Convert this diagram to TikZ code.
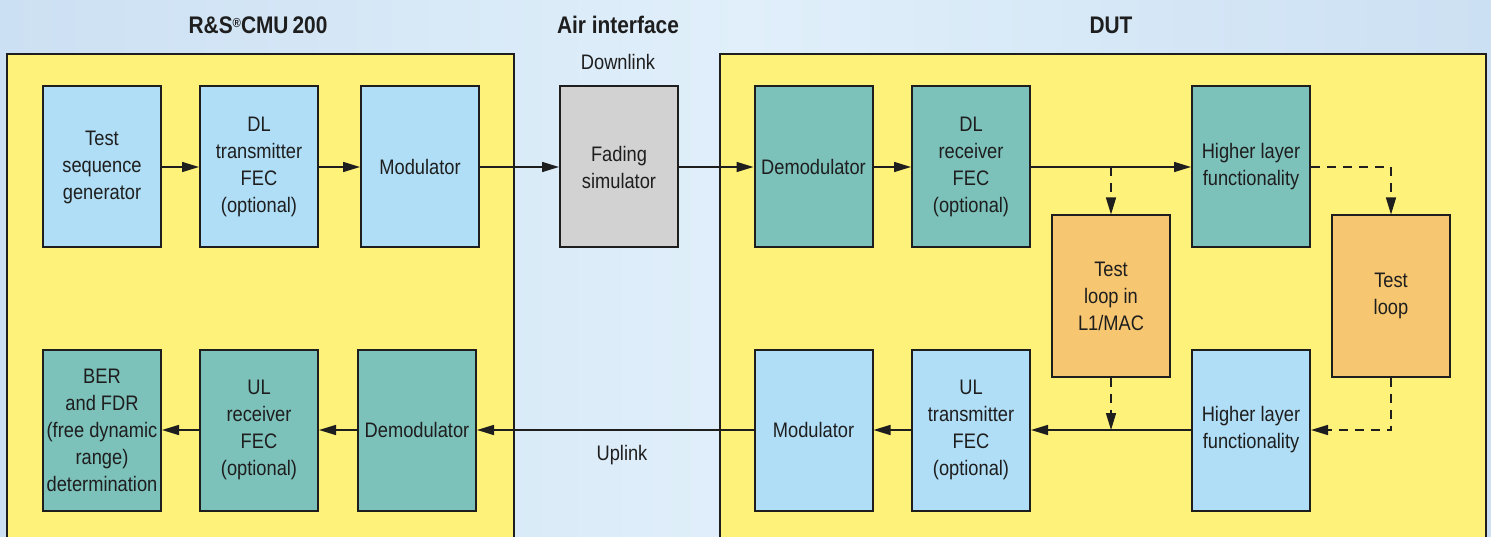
\documentclass[tikz,border=0pt]{standalone}
\usepackage{fontspec}
\setmainfont{Liberation Sans}[FakeStretch=0.87]
\usetikzlibrary{arrows.meta}
\definecolor{bgblue}{RGB}{204,224,243}
\definecolor{bglight}{RGB}{224,239,250}
\definecolor{panelyellow}{RGB}{255,242,122}
\definecolor{boxblue}{RGB}{176,222,246}
\definecolor{boxteal}{RGB}{124,193,186}
\definecolor{boxorange}{RGB}{247,198,112}
\definecolor{boxgrey}{RGB}{210,210,210}
\definecolor{ink}{RGB}{30,30,30}
\begin{document}
\begin{tikzpicture}[x=1pt,y=-1pt,
  blk/.style={draw=ink, line width=2pt, minimum width=118pt, minimum height=161pt,
    inner sep=1pt, align=center, font=\fontsize{21}{27}\selectfont, text=ink},
  bluebox/.style={blk, fill=boxblue},
  tealbox/.style={blk, fill=boxteal},
  orangebox/.style={blk, fill=boxorange},
  greybox/.style={blk, fill=boxgrey},
  title/.style={anchor=base, font=\fontsize{24}{28}\selectfont\bfseries, text=ink},
  lbl/.style={anchor=base, font=\fontsize{21}{27}\selectfont, text=ink},
  arr/.style={draw=ink, line width=1.5pt, -{Triangle[length=17pt,width=10pt]}},
  dsh/.style={arr, dash pattern=on 9pt off 7pt},
  panel/.style={draw=ink, line width=2pt}
]
\useasboundingbox (0,0) rectangle (1491,537);
\shade[left color=bgblue, right color=bgblue, middle color=bglight] (0,0) rectangle (1491,537);

% panels
\fill[panelyellow] (7,54) rectangle (514,537);
\draw[panel] (7,537) -- (7,54) -- (514,54) -- (514,537);
\fill[panelyellow] (720,54) rectangle (1486,537);
\draw[panel] (720,537) -- (720,54) -- (1486,54) -- (1486,537);

% titles
\node[title] (tcmu) at (258,34) {R\&S\raisebox{0.55ex}{\fontsize{13}{13}\selectfont ®}CMU\,200};
\node[title] (tair) at (618,34) {Air interface};
\node[title] (tdut) at (1111,34) {DUT};
\node[lbl] (down) at (618,70) {Downlink};
\node[lbl] (up) at (622,460) {Uplink};

% top row
\node[bluebox] (tsg) at (102,167) {Test\\sequence\\generator};
\node[bluebox] (dltx) at (259,167) {DL\\transmitter\\FEC\\(optional)};
\node[bluebox] (mod1) at (420,167) {Modulator};
\node[greybox] (fad) at (619,167) {Fading\\simulator};
\node[tealbox] (dem2) at (813.5,167) {Demodulator};
\node[tealbox] (dlrx) at (971,167) {DL\\receiver\\FEC\\(optional)};
\node[tealbox] (hl1) at (1251,167) {Higher layer\\functionality};

% loops
\node[orangebox] (l1) at (1111,296) {Test\\loop in\\L1/MAC};
\node[orangebox] (tl) at (1391,296) {Test\\loop};

% bottom row
\node[tealbox] (ber) at (102,430) {BER\\and FDR\\(free dynamic\\range)\\determination};
\node[tealbox] (ulrx) at (259,430) {UL\\receiver\\FEC\\(optional)};
\node[tealbox] (dem1) at (417,430) {Demodulator};
\node[bluebox] (mod2) at (813.5,430) {Modulator};
\node[bluebox] (ultx) at (971,430) {UL\\transmitter\\FEC\\(optional)};
\node[bluebox] (hl2) at (1251,430) {Higher layer\\functionality};

% downlink connectors
\draw[arr] (tsg) -- (dltx);
\draw[arr] (dltx) -- (mod1);
\draw[arr] (mod1) -- (fad);
\draw[arr] (fad) -- (dem2);
\draw[arr] (dem2) -- (dlrx);
\draw[arr] (dlrx) -- (hl1);
\coordinate (j1) at (l1.north |- dlrx.east);
\draw[dsh] (j1) -- (l1.north);
\draw[dsh] (hl1.east) -| (tl.north);

% uplink connectors
\draw[dsh] (tl.south) |- (hl2.east);
\coordinate (j2) at (l1.south |- hl2.west);
\draw[dsh] (l1.south) -- (j2);
\draw[arr] (hl2) -- (ultx);
\draw[arr] (ultx) -- (mod2);
\draw[arr] (mod2) -- (dem1);
\draw[arr] (dem1) -- (ulrx);
\draw[arr] (ulrx) -- (ber);
\end{tikzpicture}
\end{document}
